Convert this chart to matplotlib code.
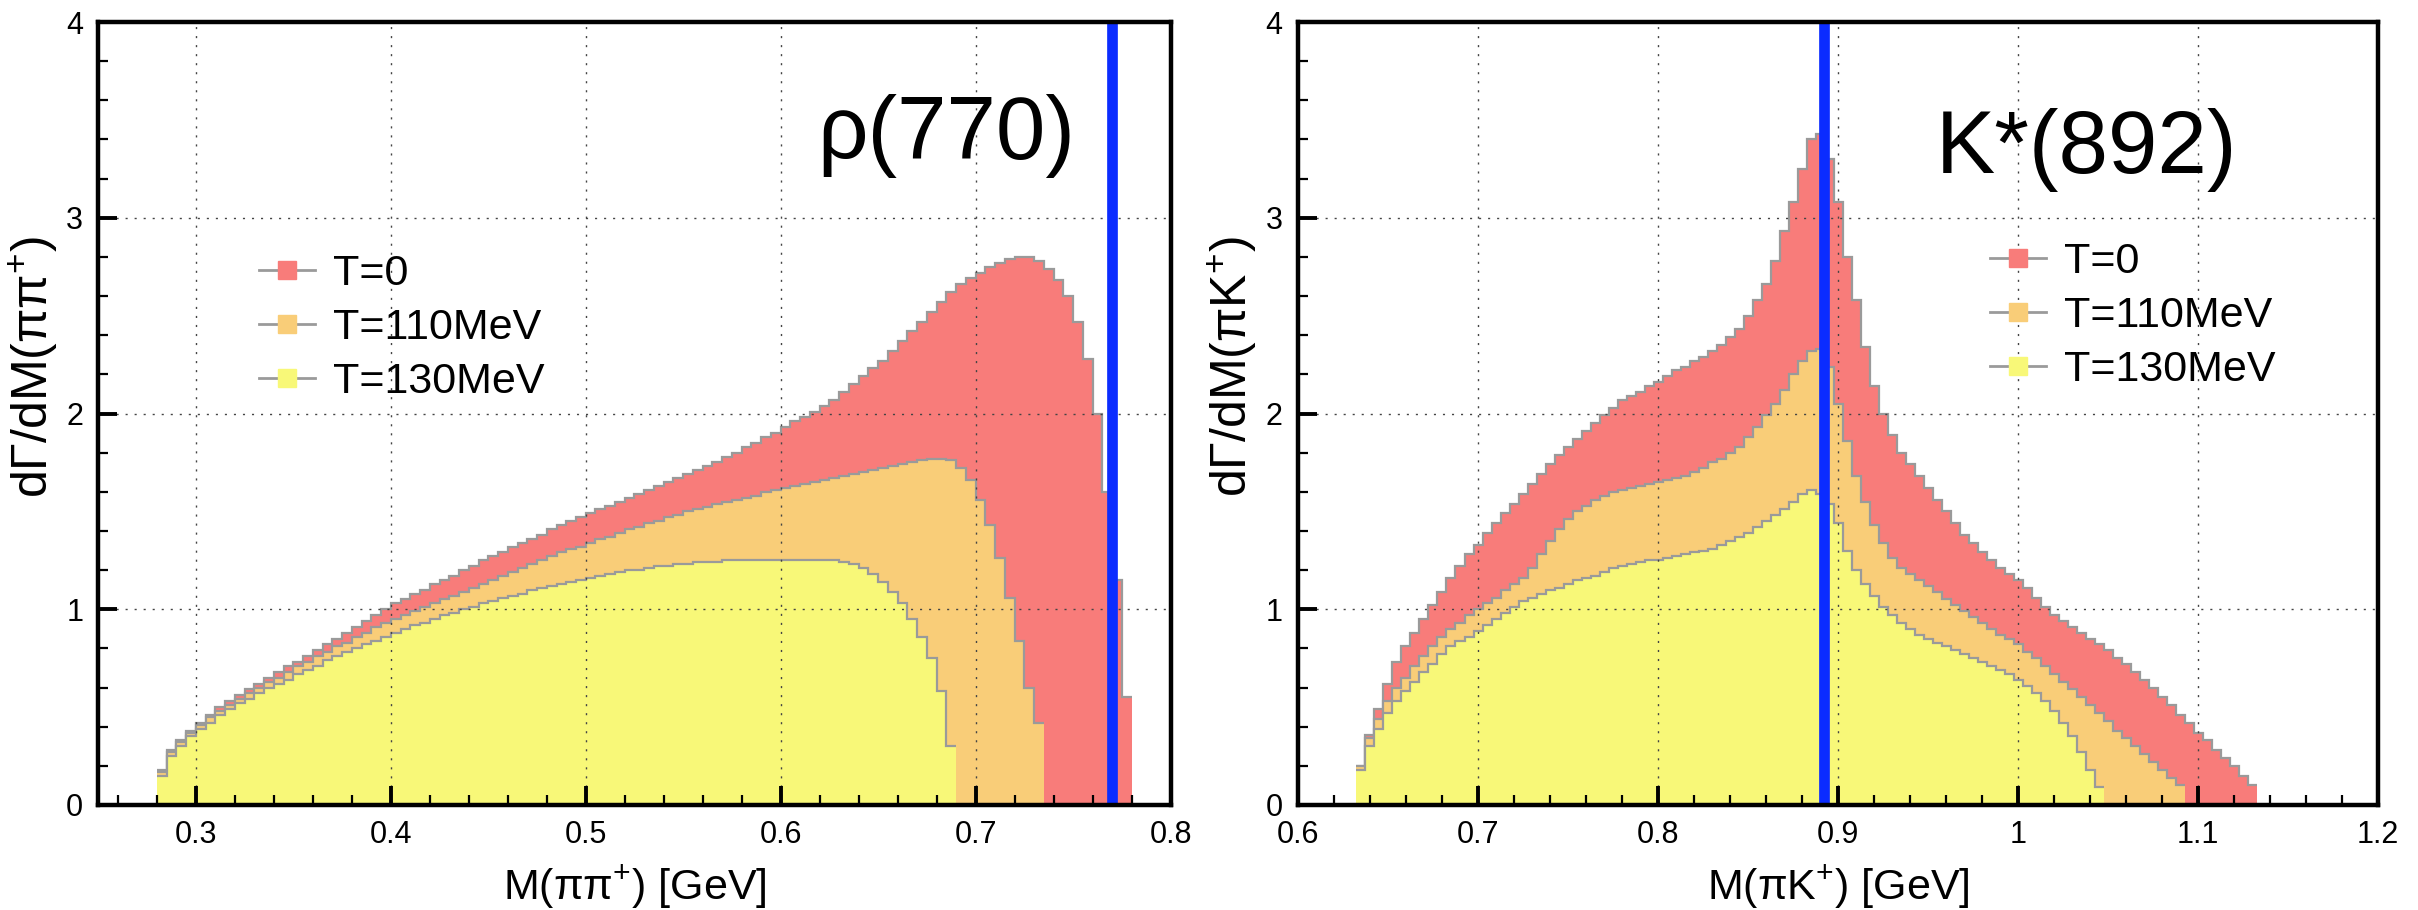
import numpy as np
import matplotlib
matplotlib.use("Agg")
import matplotlib.pyplot as plt
from matplotlib.lines import Line2D
from matplotlib.ticker import MultipleLocator, FuncFormatter

plt.rcParams['font.family'] = ['Liberation Sans', 'DejaVu Sans']
plt.rcParams['mathtext.fontset'] = 'custom'
plt.rcParams['mathtext.rm'] = 'Liberation Sans'
plt.rcParams['mathtext.default'] = 'regular'

# histogram data (bin width 0.005 GeV)
bin_w = 0.005
rho_lo = 0.280   # first bin edge, rho panel
kst_lo = 0.6325  # first bin edge, K* panel

labels = ['T=0', 'T=110MeV', 'T=130MeV']
colors = ['#f87c7a', '#f9cd78', '#f8f878']

rho_T0 = [0.18, 0.28, 0.33, 0.38, 0.42, 0.46, 0.50, 0.53, 0.56, 0.59,
          0.62, 0.65, 0.68, 0.71, 0.73, 0.76, 0.79, 0.82, 0.85, 0.88,
          0.91, 0.94, 0.97, 1.00, 1.03, 1.05, 1.08, 1.10, 1.13, 1.15,
          1.17, 1.20, 1.22, 1.25, 1.27, 1.29, 1.32, 1.34, 1.36, 1.38,
          1.41, 1.43, 1.45, 1.47, 1.49, 1.51, 1.53, 1.55, 1.57, 1.59,
          1.61, 1.63, 1.65, 1.67, 1.69, 1.71, 1.73, 1.75, 1.78, 1.80,
          1.83, 1.85, 1.88, 1.90, 1.93, 1.96, 1.98, 2.01, 2.04, 2.07,
          2.11, 2.15, 2.19, 2.23, 2.27, 2.32, 2.37, 2.42, 2.47, 2.52,
          2.57, 2.62, 2.66, 2.69, 2.72, 2.75, 2.77, 2.79, 2.80, 2.80,
          2.78, 2.74, 2.68, 2.60, 2.47, 2.28, 2.00, 1.60, 1.15, 0.55]

rho_T110 = [0.17, 0.27, 0.32, 0.37, 0.41, 0.45, 0.48, 0.51, 0.54, 0.57,
            0.60, 0.63, 0.65, 0.68, 0.71, 0.73, 0.76, 0.78, 0.81, 0.83,
            0.86, 0.88, 0.91, 0.93, 0.95, 0.97, 0.99, 1.01, 1.03, 1.05,
            1.07, 1.09, 1.11, 1.13, 1.15, 1.17, 1.19, 1.21, 1.23, 1.25,
            1.27, 1.29, 1.31, 1.32, 1.34, 1.36, 1.37, 1.39, 1.41, 1.42,
            1.44, 1.45, 1.47, 1.48, 1.50, 1.51, 1.52, 1.54, 1.55, 1.56,
            1.57, 1.58, 1.60, 1.61, 1.62, 1.63, 1.64, 1.65, 1.66, 1.67,
            1.68, 1.69, 1.70, 1.71, 1.72, 1.73, 1.74, 1.75, 1.76, 1.77,
            1.77, 1.76, 1.72, 1.66, 1.56, 1.43, 1.26, 1.06, 0.84, 0.60,
            0.42]

rho_T130 = [0.15, 0.25, 0.30, 0.35, 0.39, 0.42, 0.46, 0.49, 0.52, 0.54,
            0.57, 0.60, 0.62, 0.64, 0.67, 0.69, 0.71, 0.74, 0.76, 0.78,
            0.80, 0.82, 0.84, 0.86, 0.88, 0.90, 0.92, 0.93, 0.95, 0.97,
            0.98, 1.00, 1.01, 1.03, 1.04, 1.06, 1.07, 1.08, 1.10, 1.11,
            1.12, 1.13, 1.14, 1.15, 1.16, 1.17, 1.18, 1.19, 1.20, 1.20,
            1.21, 1.22, 1.22, 1.23, 1.23, 1.24, 1.24, 1.24, 1.25, 1.25,
            1.25, 1.25, 1.25, 1.25, 1.25, 1.25, 1.25, 1.25, 1.25, 1.25,
            1.24, 1.23, 1.21, 1.18, 1.14, 1.09, 1.03, 0.95, 0.86, 0.75,
            0.58, 0.30]

kst_T0 = [0.20, 0.36, 0.49, 0.62, 0.73, 0.81, 0.88, 0.95, 1.02, 1.09,
          1.16, 1.22, 1.28, 1.33, 1.39, 1.44, 1.49, 1.54, 1.59, 1.64,
          1.69, 1.74, 1.79, 1.83, 1.87, 1.91, 1.95, 1.99, 2.03, 2.07,
          2.09, 2.11, 2.14, 2.16, 2.19, 2.22, 2.24, 2.27, 2.29, 2.32,
          2.35, 2.39, 2.43, 2.50, 2.58, 2.66, 2.78, 2.93, 3.08, 3.25,
          3.40, 3.43, 3.30, 3.08, 2.80, 2.58, 2.34, 2.14, 2.00, 1.89,
          1.80, 1.74, 1.68, 1.62, 1.56, 1.50, 1.44, 1.38, 1.34, 1.29,
          1.25, 1.21, 1.18, 1.15, 1.11, 1.06, 1.01, 0.97, 0.94, 0.91,
          0.88, 0.85, 0.82, 0.79, 0.75, 0.72, 0.68, 0.64, 0.60, 0.55,
          0.51, 0.46, 0.42, 0.37, 0.33, 0.28, 0.24, 0.20, 0.15, 0.10]

kst_T110 = [0.20, 0.34, 0.44, 0.53, 0.60, 0.65, 0.71, 0.76, 0.81, 0.86,
            0.90, 0.93, 0.97, 1.00, 1.03, 1.06, 1.10, 1.13, 1.16, 1.21,
            1.28, 1.35, 1.41, 1.46, 1.50, 1.53, 1.56, 1.58, 1.60, 1.61,
            1.62, 1.63, 1.64, 1.65, 1.66, 1.67, 1.68, 1.70, 1.72, 1.75,
            1.77, 1.80, 1.83, 1.88, 1.93, 1.99, 2.05, 2.12, 2.20, 2.27,
            2.32, 2.33, 2.24, 2.05, 1.86, 1.68, 1.55, 1.43, 1.34, 1.26,
            1.21, 1.18, 1.15, 1.12, 1.09, 1.05, 1.02, 0.99, 0.96, 0.93,
            0.90, 0.87, 0.85, 0.82, 0.78, 0.75, 0.71, 0.67, 0.63, 0.59,
            0.55, 0.51, 0.47, 0.43, 0.38, 0.34, 0.30, 0.26, 0.22, 0.18,
            0.14, 0.10]

kst_T130 = [0.18, 0.30, 0.39, 0.47, 0.53, 0.58, 0.63, 0.68, 0.72, 0.77,
            0.81, 0.84, 0.86, 0.89, 0.92, 0.95, 0.98, 1.01, 1.04, 1.06,
            1.08, 1.10, 1.11, 1.13, 1.15, 1.16, 1.17, 1.19, 1.21, 1.22,
            1.23, 1.24, 1.25, 1.25, 1.26, 1.27, 1.28, 1.29, 1.30, 1.31,
            1.33, 1.35, 1.37, 1.39, 1.42, 1.45, 1.48, 1.51, 1.55, 1.59,
            1.61, 1.59, 1.54, 1.44, 1.30, 1.20, 1.13, 1.07, 1.01, 0.97,
            0.93, 0.90, 0.87, 0.85, 0.83, 0.81, 0.79, 0.77, 0.75, 0.73,
            0.71, 0.69, 0.67, 0.64, 0.61, 0.57, 0.53, 0.48, 0.42, 0.35,
            0.27, 0.18, 0.09]

rho_mass = 0.770
kst_mass = 0.892


def draw_panel(ax, series, lo, xlim, xticks, mass, name, name_xy, name_size,
               xlabel, ylabel, leg_anchor):
    for vals, col in zip(series, colors):
        edges = lo + bin_w * np.arange(len(vals) + 1)
        ax.stairs(vals, edges, fill=True, color=col, lw=0)
        ax.stairs(vals, edges, baseline=None, color='#9a9a9a', lw=1.6)
    ax.axvline(mass, color='#0b2cff', lw=7.7)

    ax.set_xlim(*xlim)
    ax.set_ylim(0, 4)
    ax.set_xticks(xticks)
    ax.set_yticks([0, 1, 2, 3, 4])
    ax.xaxis.set_minor_locator(MultipleLocator(0.02))
    ax.yaxis.set_minor_locator(MultipleLocator(0.2))
    ax.xaxis.set_major_formatter(FuncFormatter(lambda v, p: f'{v:g}'))
    ax.yaxis.set_major_formatter(FuncFormatter(lambda v, p: f'{v:g}'))
    ax.tick_params(which='both', direction='in', top=False, right=False,
                   labelsize=22)
    ax.tick_params(which='major', length=13.5, width=2.8, pad=11)
    ax.tick_params(which='minor', length=7, width=1.6)
    for sp in ax.spines.values():
        sp.set_linewidth(3.2)
    ax.grid(True, which='major', ls=(0, (1.5, 5)), lw=1.0, color='#444444')

    ax.text(name_xy[0], name_xy[1], name, fontsize=name_size, ha='left',
            va='baseline')
    ax.set_xlabel(xlabel, fontsize=31)
    ax.xaxis.set_label_coords(0.5, -0.074)
    ax.set_ylabel(ylabel, fontsize=36)
    ax.yaxis.set_label_coords(-0.036, 0.56)

    handles = [Line2D([], [], color='#9a9a9a', lw=2, marker='s',
                      markersize=13.5, markerfacecolor=c, markeredgecolor=c)
               for c in colors]
    ax.legend(handles, labels, loc='upper left', bbox_to_anchor=leg_anchor,
              frameon=False, fontsize=31, handlelength=1.3,
              handletextpad=0.42, labelspacing=0.33, borderpad=0,
              borderaxespad=0)


fig = plt.figure(figsize=(24.18, 9.10), dpi=100)
ax1 = fig.add_axes([0.0407, 0.1154, 0.4434, 0.8604])
ax2 = fig.add_axes([0.5368, 0.1154, 0.4467, 0.8604])

draw_panel(ax1, [rho_T0, rho_T110, rho_T130], rho_lo, (0.25, 0.8),
           [0.3, 0.4, 0.5, 0.6, 0.7, 0.8], rho_mass, 'ρ(770)',
           (0.619, 3.30), 64, 'M(ππ$^{+}$) [GeV]',
           'dΓ/dM(ππ$^{+}$)', (0.150, 0.704))
draw_panel(ax2, [kst_T0, kst_T110, kst_T130], kst_lo, (0.6, 1.2),
           [0.6, 0.7, 0.8, 0.9, 1.0, 1.1, 1.2], kst_mass, 'K*(892)',
           (0.954, 3.23), 64, 'M(πK$^{+}$) [GeV]',
           'dΓ/dM(πK$^{+}$)', (0.641, 0.719))

fig.savefig('out.png', dpi=100)
